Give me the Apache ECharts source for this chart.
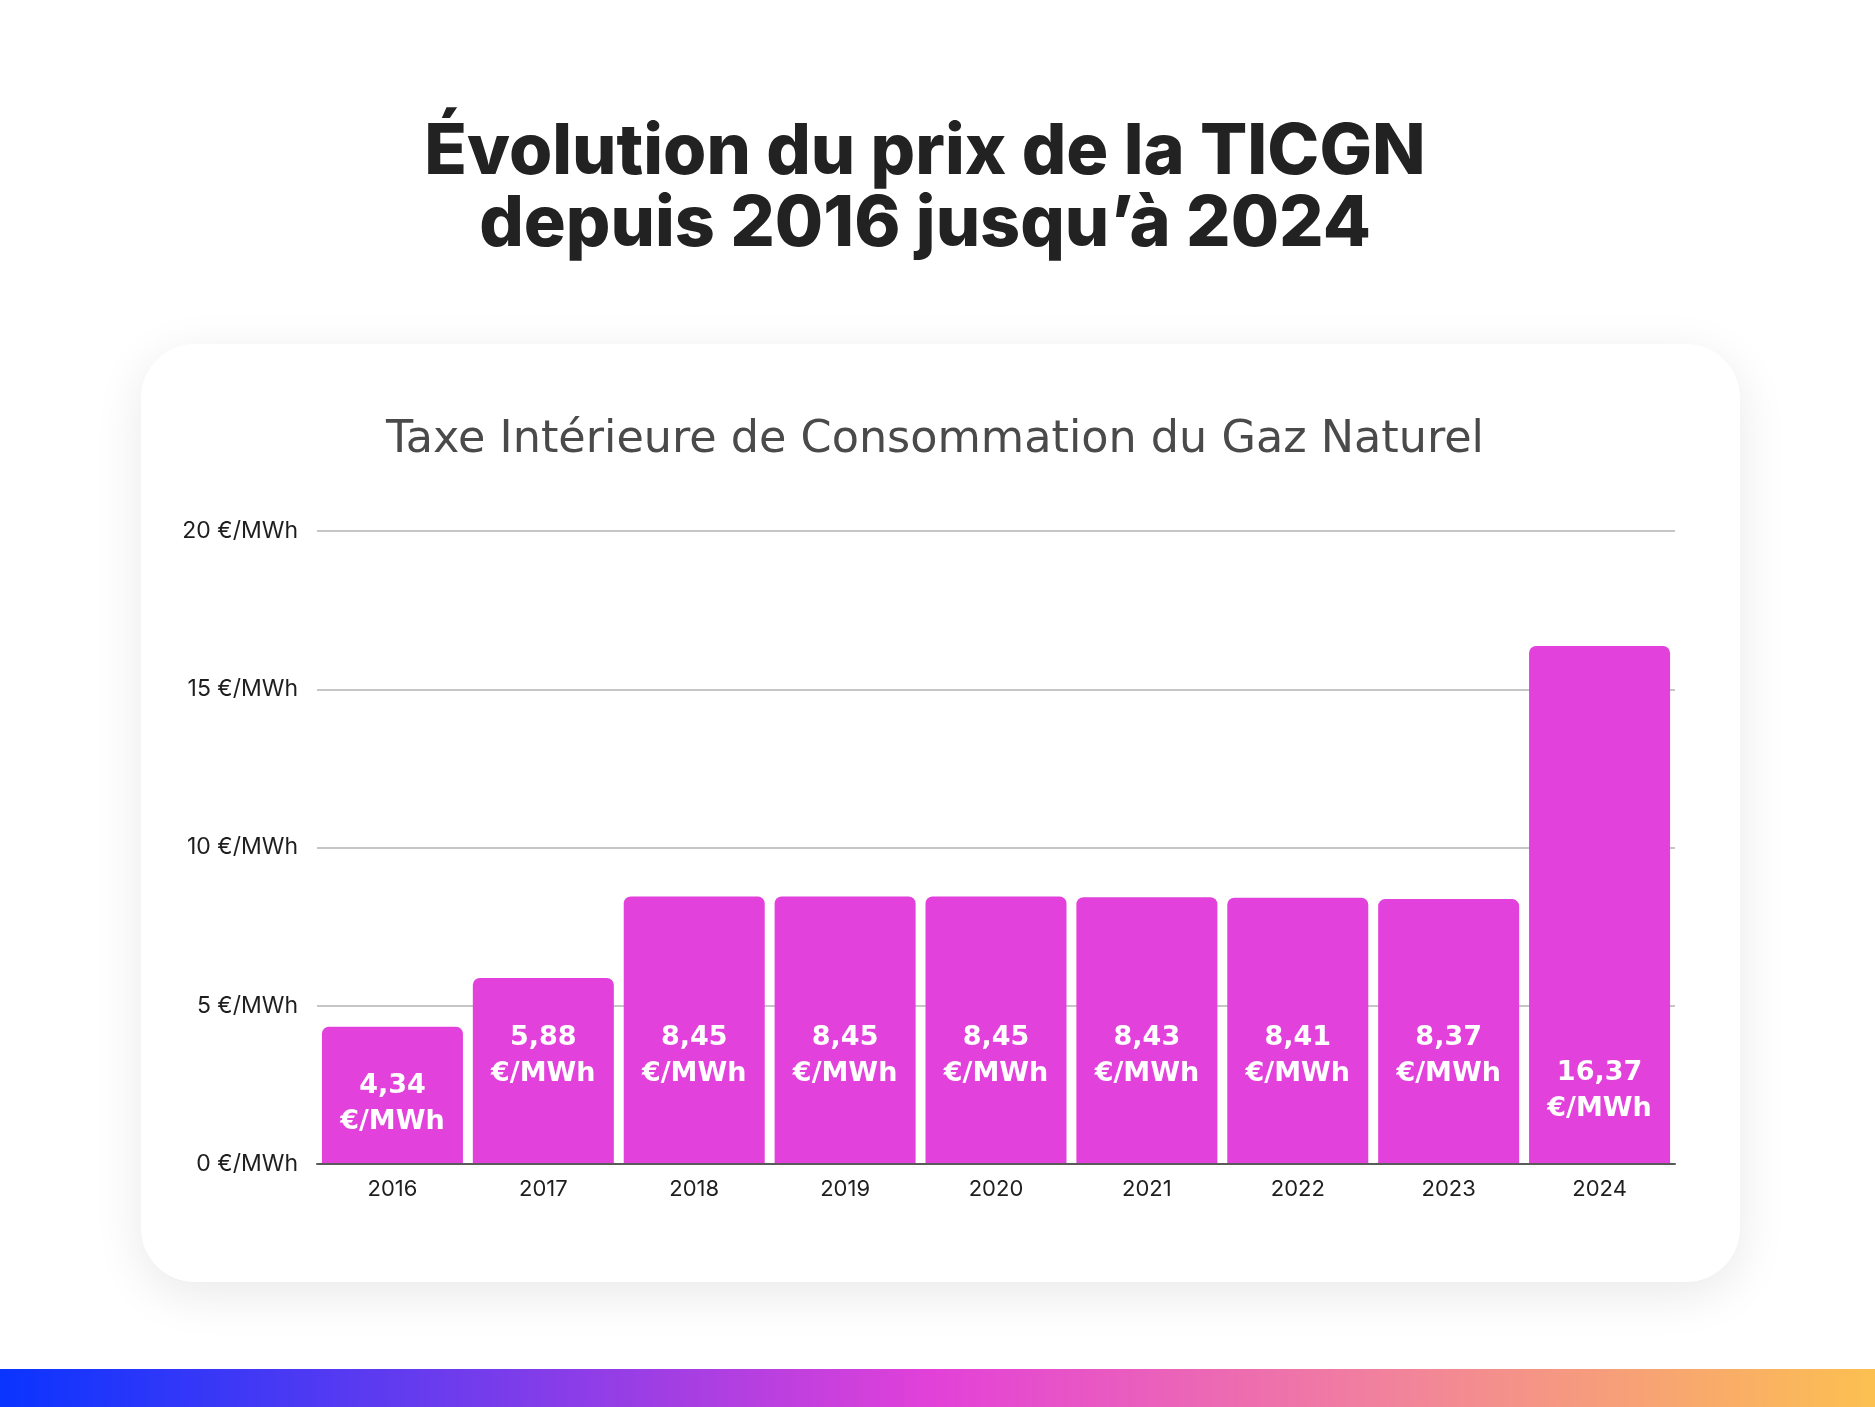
<!DOCTYPE html>
<html>
<head>
<meta charset="utf-8">
<script src="https://cdn.jsdelivr.net/npm/echarts@6/dist/echarts.min.js"></script>
<style>
  html, body { margin: 0; padding: 0; background: #ffffff; }
  #chart { width: 1875px; height: 1407px; }
</style>
</head>
<body>
<div id="chart"></div>
<script>
// ---- data ----
const categories = ['2016', '2017', '2018', '2019', '2020', '2021', '2022', '2023', '2024'];
const values = [4.34, 5.88, 8.45, 8.45, 8.45, 8.43, 8.41, 8.37, 16.37];
const yTicks = [0, 5, 10, 15, 20];
const titleText = 'Évolution du prix de la TICGN\ndepuis 2016 jusqu’à 2024';
const subtitleText = 'Taxe Intérieure de Consommation du Gaz Naturel';
const unit = '€/MWh';

// ---- layout (not data) ----
const labelDistance = [24, 72, 72, 72, 72, 72, 72, 72, 37];

const chart = echarts.init(document.getElementById('chart'), null, { renderer: 'canvas' });

const W = 1875, H = 1407;
const gridTop = 531, gridBottomY = 1164;
const lineLeft = 317, lineRight = 1675;

function fmt(v) { return v.toFixed(2).replace('.', ','); }

const barData = values.map((v, i) => ({
  value: v,
  label: { distance: labelDistance[i] }
}));

chart.setOption({
  animation: false,
  backgroundColor: '#ffffff',
  title: [
    {
      text: titleText,
      left: 920, top: 112, textAlign: 'center',
      textStyle: { fontFamily: 'Inter', fontWeight: 800, fontSize: 70, lineHeight: 72, color: '#222222' }
    },
    {
      text: subtitleText,
      left: 930, top: 413, textAlign: 'center',
      textStyle: { fontFamily: 'DejaVu Sans', fontWeight: 'normal', fontSize: 44.5, color: '#4a4a4a' }
    }
  ],
  graphic: [
    {
      type: 'rect', z: -10, silent: true,
      shape: { x: 141, y: 344, width: 1599, height: 938, r: 54 },
      style: { fill: '#ffffff', shadowBlur: 50, shadowOffsetY: 12, shadowColor: 'rgba(0,0,0,0.09)' }
    },
    {
      type: 'rect', z: -5, silent: true,
      shape: { x: 0, y: 1369, width: W, height: H - 1369 },
      style: {
        fill: new echarts.graphic.LinearGradient(0, 0, 1, 0, [
          { offset: 0, color: '#0a34ff' },
          { offset: 0.25, color: '#713cec' },
          { offset: 0.5, color: '#e341d8' },
          { offset: 0.75, color: '#f2849a' },
          { offset: 1, color: '#fcc050' }
        ])
      }
    }
  ],
  grid: [
    { left: lineLeft, width: lineRight - lineLeft, top: gridTop, height: gridBottomY - gridTop }
  ],
  xAxis: [
    {
      type: 'category', data: categories,
      axisTick: { show: false },
      axisLine: { show: true, lineStyle: { color: '#5a5a5a', width: 2 } },
      axisLabel: { color: '#1e1e1e', fontSize: 22, fontFamily: 'Inter', margin: 14 },
      z: 5
    }
  ],
  yAxis: [
    {
      type: 'value', min: yTicks[0], max: yTicks[yTicks.length - 1], interval: 5,
      axisLine: { show: false }, axisTick: { show: false },
      splitLine: { show: true, lineStyle: { color: '#c6c6c6', width: 2 } },
      axisLabel: { color: '#1e1e1e', fontSize: 23, fontFamily: 'Inter', margin: 19,
        formatter: v => v + ' ' + unit }
    }
  ],
  series: [
    {
      type: 'bar',
      data: barData,
      barWidth: 141,
      z: 3,
      itemStyle: { color: '#e241dc', borderRadius: [7, 7, 0, 0] },
      label: {
        show: true, position: 'insideBottom',
        color: '#ffffff', fontFamily: 'DejaVu Sans', fontWeight: 'bold', fontSize: 27, lineHeight: 36,
        align: 'center',
        formatter: p => fmt(p.value) + '\n' + unit
      }
    }
  ]
});
</script>
</body>
</html>
